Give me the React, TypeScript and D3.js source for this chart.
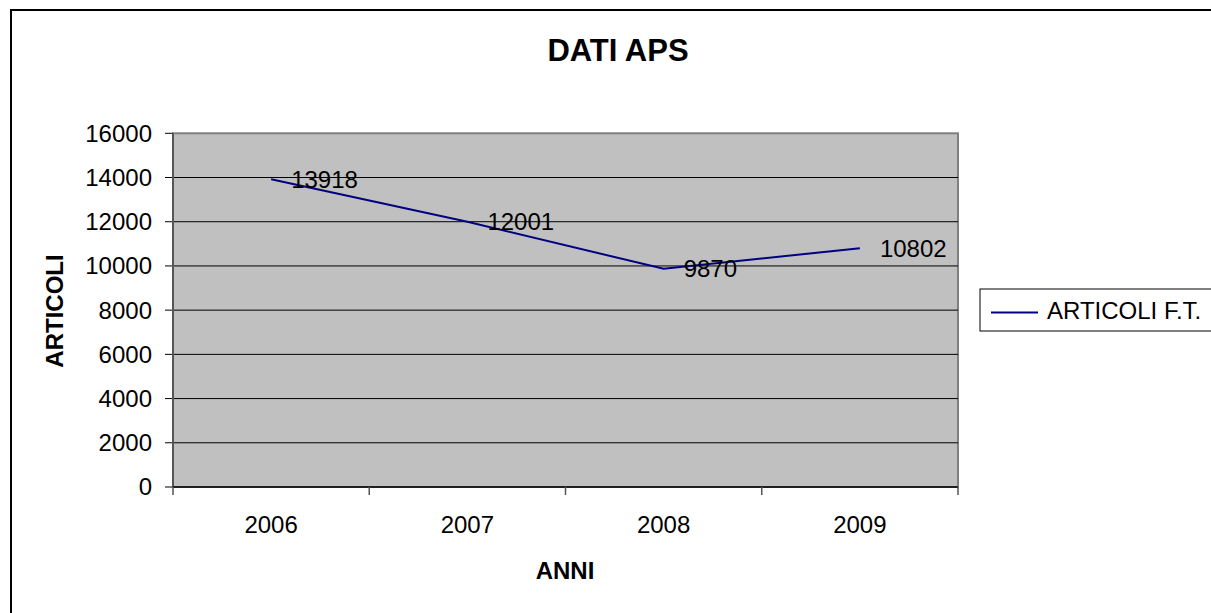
import * as d3 from "d3";
import React from "react";

const years = ["2006", "2007", "2008", "2009"];
const articoli = [13918, 12001, 9870, 10802];
const yTicks = [0, 2000, 4000, 6000, 8000, 10000, 12000, 14000, 16000];
const seriesName = "ARTICOLI F.T.";

const W = 1211;
const H = 613;
const font = "Arial, 'Liberation Sans', sans-serif";

export default function App() {
  const plot = { left: 173, right: 958, top: 133.3, bottom: 487 };

  const x = d3.scaleBand().domain(years).range([plot.left, plot.right]).padding(0);
  const y = d3.scaleLinear().domain([0, 16000]).range([plot.bottom, plot.top]);

  const line = d3
    .line<number>()
    .x((_, i) => (x(years[i]) as number) + x.bandwidth() / 2)
    .y((d) => y(d));

  // boundaries between categories for the x tick marks
  const xBounds = years.map((yr) => x(yr) as number).concat([plot.right]);

  return (
    <svg
      width={W}
      height={H}
      style={{ position: "absolute", left: 0, top: 0, background: "#fff" }}
      fontFamily={font}
    >
      <rect x={11} y={10} width={W + 20} height={H + 20} fill="#fff" stroke="#000" strokeWidth={2} />

      <text x={618} y={61} textAnchor="middle" fontSize={31} fontWeight="bold">
        DATI APS
      </text>

      {/* plot area */}
      <rect
        x={plot.left}
        y={plot.top}
        width={plot.right - plot.left}
        height={plot.bottom - plot.top}
        fill="#c0c0c0"
        stroke="#808080"
        strokeWidth={2}
      />

      {yTicks.map((t) => (
        <g key={t}>
          {t > 0 && t < 16000 && (
            <line x1={plot.left} x2={plot.right} y1={y(t)} y2={y(t)} stroke="#000" strokeWidth={1} />
          )}
          <line x1={plot.left - 8} x2={plot.left} y1={y(t)} y2={y(t)} stroke="#000" strokeWidth={1} />
          <text x={152} y={y(t)} dy="0.35em" textAnchor="end" fontSize={24}>
            {t}
          </text>
        </g>
      ))}

      <line x1={plot.left} x2={plot.left} y1={plot.top} y2={plot.bottom} stroke="#555" strokeWidth={2} />
      <line x1={plot.left} x2={plot.right} y1={plot.bottom} y2={plot.bottom} stroke="#000" strokeWidth={1.5} />

      {xBounds.map((b, i) => (
        <line key={i} x1={b} x2={b} y1={plot.bottom} y2={plot.bottom + 8} stroke="#555" strokeWidth={1.5} />
      ))}

      {years.map((yr) => (
        <text
          key={yr}
          x={(x(yr) as number) + x.bandwidth() / 2}
          y={533}
          textAnchor="middle"
          fontSize={24}
        >
          {yr}
        </text>
      ))}

      <path d={line(articoli) || ""} fill="none" stroke="#000080" strokeWidth={2} />

      {articoli.map((v, i) => (
        <text
          key={i}
          x={(x(years[i]) as number) + x.bandwidth() / 2 + 20}
          y={y(v)}
          dy="0.35em"
          fontSize={24}
        >
          {v}
        </text>
      ))}

      <text x={565} y={579} textAnchor="middle" fontSize={24} fontWeight="bold">
        ANNI
      </text>
      <text
        transform={`translate(63, ${311}) rotate(-90)`}
        textAnchor="middle"
        fontSize={24}
        fontWeight="bold"
      >
        ARTICOLI
      </text>

      {/* legend */}
      <rect x={980} y={289} width={260} height={42} fill="#fff" stroke="#000" strokeWidth={1} />
      <line x1={991} x2={1038} y1={312.5} y2={312.5} stroke="#000080" strokeWidth={2} />
      <text x={1047} y={319} fontSize={24}>
        {seriesName}
      </text>
    </svg>
  );
}
